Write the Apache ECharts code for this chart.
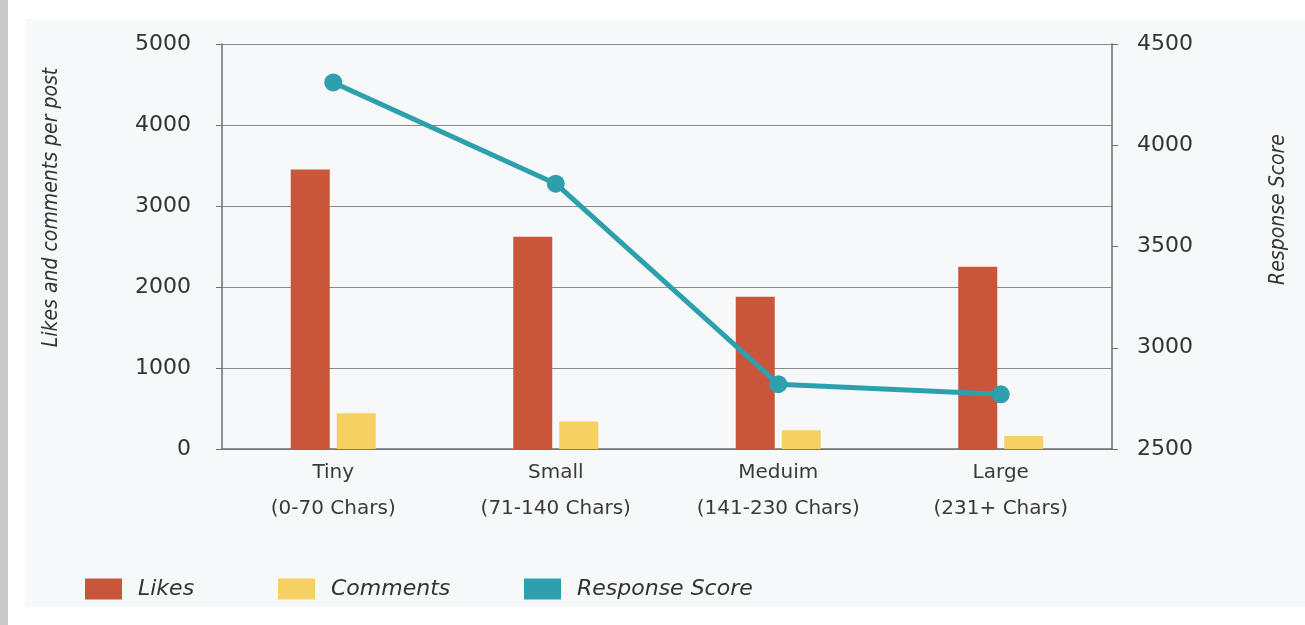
<!DOCTYPE html>
<html>
<head>
<meta charset="utf-8">
<script src="https://cdn.jsdelivr.net/npm/echarts@6/dist/echarts.min.js"></script>
<style>
  html, body { margin: 0; padding: 0; background: #ffffff; }
  #chart { width: 1305px; height: 625px; }
</style>
</head>
<body>
<div id="chart"></div>
<script>
const categories = ['Tiny\n(0-70 Chars)', 'Small\n(71-140 Chars)', 'Meduim\n(141-230 Chars)', 'Large\n(231+ Chars)']
const likes = [3450, 2620, 1880, 2250]
const comments = [440, 340, 230, 160]
const responseScore = [4310, 3810, 2820, 2770]

const colors = {
  likes: '#c9553a',
  comments: '#f6d062',
  score: '#2da0ae',
  axis: '#6f6f6f',
  text: '#333333'
}

const myChart = echarts.init(document.getElementById('chart'))

const legendText = {
  color: colors.text,
  fontSize: 22,
  fontStyle: 'italic',
  fontFamily: 'DejaVu Sans',
  padding: [0, 0, 0, 11]
}

const makeLegend = (name, left) => ({
  left: left,
  top: 573,
  icon: 'rect',
  itemWidth: 37,
  itemHeight: 21,
  textStyle: legendText,
  selectedMode: false,
  data: [name]
})

const axisNameStyle = {
  color: colors.text,
  fontSize: 21,
  fontStyle: 'italic',
  fontFamily: '"Liberation Sans Narrow", "DejaVu Sans Condensed", sans-serif'
}

const tickLabel = {
  color: colors.text,
  fontSize: 22,
  fontFamily: 'DejaVu Sans',
  formatter: (value) => String(value)
}

const option = {
  animation: false,
  graphic: [
    { type: 'rect', z: -10, shape: { x: 0, y: 0, width: 8, height: 625 }, style: { fill: '#c9c9c9' } },
    { type: 'rect', z: -10, shape: { x: 25, y: 19, width: 1280, height: 588 }, style: { fill: '#f7f8fa' } }
  ],
  legend: [
    makeLegend('Likes', 80),
    makeLegend('Comments', 273),
    makeLegend('Response Score', 519)
  ],
  grid: {
    left: 222,
    right: 193,
    top: 44,
    bottom: 176
  },
  xAxis: {
    type: 'category',
    data: categories,
    axisLine: { show: true, lineStyle: { color: colors.axis, width: 1.5 } },
    axisTick: { show: false },
    axisLabel: {
      color: '#3a3a3a',
      fontSize: 20,
      fontFamily: 'DejaVu Sans',
      lineHeight: 36,
      margin: 6
    }
  },
  yAxis: [
    {
      type: 'value',
      min: 0,
      max: 5000,
      interval: 1000,
      name: 'Likes and comments per post',
      nameLocation: 'middle',
      nameGap: 160,
      nameRotate: 90,
      nameTextStyle: Object.assign({ padding: [0, 0, 0, 78] }, axisNameStyle),
      axisLine: { show: true, lineStyle: { color: colors.axis, width: 1.5 } },
      axisTick: { show: true, length: 6, lineStyle: { color: colors.axis } },
      axisLabel: Object.assign({ margin: 31 }, tickLabel),
      splitLine: { show: true, lineStyle: { color: '#8a8a8a', width: 1 } }
    },
    {
      type: 'value',
      min: 2500,
      max: 4500,
      interval: 500,
      name: 'Response Score',
      nameLocation: 'middle',
      nameGap: 156,
      nameRotate: 90,
      nameTextStyle: Object.assign({ padding: [0, 0, 0, 74] }, axisNameStyle),
      axisLine: { show: true, lineStyle: { color: colors.axis, width: 1.5 } },
      axisTick: { show: true, length: 6, lineStyle: { color: colors.axis } },
      axisLabel: Object.assign({ margin: 25 }, tickLabel),
      splitLine: { show: false }
    }
  ],
  series: [
    {
      name: 'Likes',
      type: 'bar',
      yAxisIndex: 0,
      barWidth: 39,
      barGap: '18%',
      data: likes,
      itemStyle: { color: colors.likes }
    },
    {
      name: 'Comments',
      type: 'bar',
      yAxisIndex: 0,
      barWidth: 39,
      data: comments,
      itemStyle: { color: colors.comments }
    },
    {
      name: 'Response Score',
      type: 'line',
      yAxisIndex: 1,
      data: responseScore,
      symbol: 'circle',
      symbolSize: 18,
      lineStyle: { width: 5, color: colors.score },
      itemStyle: { color: colors.score },
      z: 5
    }
  ]
}

myChart.setOption(option)
</script>
</body>
</html>
